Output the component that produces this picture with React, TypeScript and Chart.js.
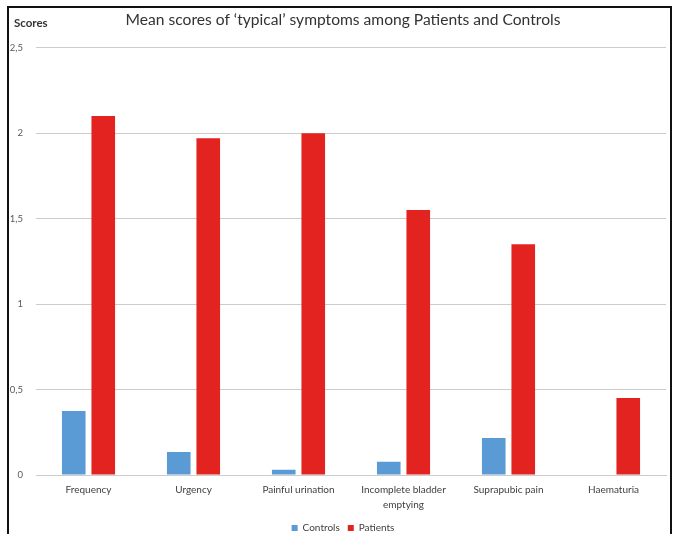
import React, { useEffect, useRef } from "react";
import { Chart, registerables } from "chart.js";

Chart.register(...registerables);

const categories: (string | string[])[] = [
  "Frequency",
  "Urgency",
  "Painful urination",
  ["Incomplete bladder", "emptying"],
  "Suprapubic pain",
  "Haematuria",
];
const controls = [0.375, 0.135, 0.03, 0.078, 0.216, 0];
const patients = [2.1, 1.97, 2.0, 1.55, 1.35, 0.45];
const yTickLabels = ["0", "0,5", "1", "1,5", "2", "2,5"];
const titleText = "Mean scores of \u2018typical\u2019 symptoms among Patients and Controls";
const yAxisLabel = "Scores";

const FONT = "Lato, 'Open Sans', sans-serif";
const CANVAS_W = 686;

export default function App() {
  const ref = useRef<HTMLCanvasElement | null>(null);
  useEffect(() => {
    document.body.style.margin = "0";
    if (!ref.current) return;
    const scoresPlugin = {
      id: "scoresLabel",
      afterDraw(chart: any) {
        const ctx = chart.ctx;
        ctx.save();
        ctx.font = `bold 11.5px ${FONT}`;
        ctx.fillStyle = "#333";
        ctx.textBaseline = "middle";
        ctx.textAlign = "left";
        ctx.fillText(yAxisLabel, 14, 23);
        ctx.restore();
      },
    };
    const chart = new Chart(ref.current, {
      type: "bar",
      data: {
        labels: categories as any,
        datasets: [
          {
            label: "Controls",
            data: controls,
            backgroundColor: "#5B9BD5",
            categoryPercentage: 0.562,
            barPercentage: 0.8,
          },
          {
            label: "Patients",
            data: patients,
            backgroundColor: "#E3231F",
            categoryPercentage: 0.562,
            barPercentage: 0.8,
          },
        ],
      },
      options: {
        animation: false,
        responsive: false,
        maintainAspectRatio: false,
        layout: { padding: { left: 0, right: 0, top: 0, bottom: -9 } },
        plugins: {
          title: {
            display: true,
            text: titleText,
            color: "#333",
            font: { family: FONT, size: 15.6, weight: "normal" },
            padding: { top: 11, bottom: 18 },
          },
          legend: {
            display: true,
            position: "bottom",
            labels: {
              boxWidth: 6,
              boxHeight: 6,
              font: { family: FONT, size: 10 },
              color: "#404040",
              padding: 8,
            },
          },
          tooltip: { enabled: false },
        },
        scales: {
          x: {
            grid: { display: false, drawTicks: false },
            border: { display: true, color: "#cccccc" },
            ticks: {
              font: { family: FONT, size: 10, lineHeight: 1.45 },
              color: "#404040",
              padding: 8,
              maxRotation: 0,
              autoSkip: false,
            },
            afterFit: (s: any) => {
              s.height = 40;
            },
          },
          y: {
            min: 0,
            max: 2.5,
            grid: { color: "#cccccc", drawTicks: false },
            border: { display: false },
            ticks: {
              stepSize: 0.5,
              padding: 13,
              font: { family: FONT, size: 9.5 },
              color: "#595959",
              callback: (_v: any, i: number) => yTickLabels[i],
            },
            afterFit: (s: any) => {
              s.width = 36;
            },
          },
          yRight: {
            position: "right",
            min: 0,
            max: 2.5,
            grid: { display: false, drawTicks: false },
            border: { display: false },
            ticks: { display: false },
            afterFit: (s: any) => {
              s.width = CANVAS_W - 666;
            },
          },
        },
      },
      plugins: [scoresPlugin],
    });
    return () => chart.destroy();
  }, []);
  return (
    <div style={{ position: "relative", width: 673, height: 534, overflow: "hidden", background: "#fff" }}>
      <canvas ref={ref} width={CANVAS_W} height={534} style={{ position: "absolute", left: 0, top: 0 }} />
      <div
        style={{
          position: "absolute",
          left: 7,
          top: 6,
          width: 665,
          height: 540,
          boxSizing: "border-box",
          borderLeft: "2px solid #111",
          borderTop: "2px solid #111",
          borderRight: "2px solid #111",
          pointerEvents: "none",
        }}
      />
    </div>
  );
}
